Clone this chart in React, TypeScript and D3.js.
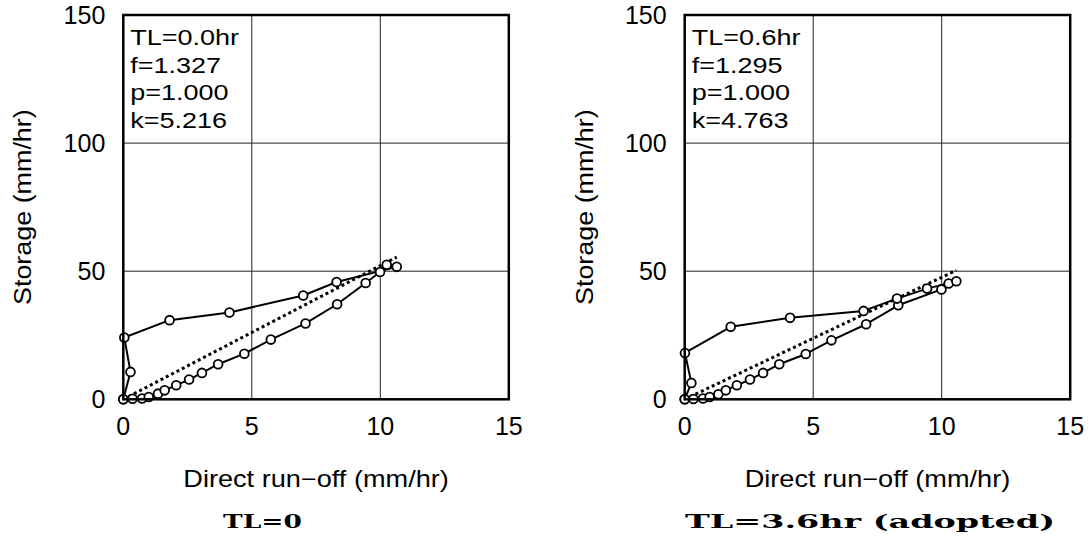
import React from "react";
import * as d3 from "d3";

const xTicks = [0, 5, 10, 15];
const yTicks = [0, 50, 100, 150];

const qTL0 = [0, 0.36, 0.73, 0.99, 1.35, 1.61, 2.06, 2.56, 3.06, 3.69, 4.71, 5.74, 7.09, 8.32, 9.43, 9.99, 10.25, 10.64, 8.3, 7.0, 4.13, 1.8, 0.04, 0.28, 0];
const sTL0 = [0, 0.2, 0.3, 0.9, 2.2, 3.5, 5.5, 7.7, 10.3, 13.7, 17.8, 23.3, 29.6, 37.1, 45.4, 49.7, 52.5, 51.7, 45.8, 40.5, 33.9, 30.9, 24.1, 10.7, 0];

const qTL36 = [0, 0.34, 0.71, 0.97, 1.31, 1.6, 2.03, 2.54, 3.05, 3.68, 4.71, 5.71, 7.06, 8.31, 9.99, 10.27, 10.57, 9.43, 8.26, 6.96, 4.1, 1.79, 0.01, 0.26, 0];
const sTL36 = [0, 0.1, 0.3, 0.9, 1.95, 3.5, 5.5, 7.7, 10.3, 13.7, 17.7, 23.0, 29.3, 36.7, 42.9, 45.2, 46.1, 43.2, 39.3, 34.5, 31.8, 28.3, 18.1, 6.4, 0];

const paramsTL0 = ["TL=0.0hr", "f=1.327", "p=1.000", "k=5.216"];
const paramsTL36 = ["TL=0.6hr", "f=1.295", "p=1.000", "k=4.763"];
const kTL0 = 5.216;
const kTL36 = 4.763;
const pTL0 = 1.0;
const pTL36 = 1.0;

const captions = ["TL=0", "TL=3.6hr (adopted)"];
const xTitle = "Direct run\u2212off (mm/hr)";
const yTitle = "Storage (mm/hr)";

const FONT = "'Liberation Sans', Arial, Helvetica, sans-serif";

type PanelProps = {
  left: number;
  q: number[];
  s: number[];
  params: string[];
  k: number;
  p: number;
  caption: string;
  captionX: number;
  captionLen: number;
};

function Panel({ left, q, s, params, k, p, caption, captionX, captionLen }: PanelProps) {
  const top = 15;
  const bottom = 399.3;
  const width = 385.5;
  const x = d3.scaleLinear().domain([0, 15]).range([left, left + width]);
  const y = d3.scaleLinear().domain([0, 150]).range([bottom, top]);
  const pts: [number, number][] = q.map((v, i) => [v, s[i]]);
  const line = d3
    .line<[number, number]>()
    .x((d) => x(d[0]))
    .y((d) => y(d[1]));
  const qMax = d3.max(q) as number;
  const fit: [number, number][] = [
    [0, 0],
    [qMax, k * Math.pow(qMax, p)],
  ];
  const cx = (left + left + width) / 2;
  return (
    <g>
      {xTicks.slice(1, -1).map((t) => (
        <line key={"gx" + t} x1={x(t)} x2={x(t)} y1={top} y2={bottom} stroke="#222" strokeWidth={1} />
      ))}
      {yTicks.slice(1, -1).map((t) => (
        <line key={"gy" + t} x1={left} x2={left + width} y1={y(t)} y2={y(t)} stroke="#222" strokeWidth={1} />
      ))}
      <path d={line(fit) as string} fill="none" stroke="#000" strokeWidth={3} strokeDasharray="3 3" />
      <path d={line(pts) as string} fill="none" stroke="#000" strokeWidth={2} strokeLinejoin="round" />
      {pts.map((d, i) => (
        <circle key={i} cx={x(d[0])} cy={y(d[1])} r={4.4} fill="#fff" stroke="#000" strokeWidth={1.8} />
      ))}
      <rect x={left} y={top} width={width} height={bottom - top} fill="none" stroke="#000" strokeWidth={2.5} />
      {xTicks.map((t) => (
        <text key={"tx" + t} x={x(t)} y={435} textAnchor="middle" fontFamily={FONT} fontSize={25}>
          {t}
        </text>
      ))}
      {yTicks.map((t) => (
        <text key={"ty" + t} x={left - 18} y={y(t) + 9} textAnchor="end" fontFamily={FONT} fontSize={25}>
          {t}
        </text>
      ))}
      {params.map((t, i) => (
        <text
          key={"p" + i}
          transform={`translate(${left + 7},${45 + i * 27.7}) scale(1.2,1)`}
          fontFamily={FONT}
          fontSize={22.5}
        >
          {t}
        </text>
      ))}
      <text
        transform={`translate(${cx},${487}) scale(1.18,1)`}
        textAnchor="middle"
        fontFamily={FONT}
        fontSize={23}
      >
        {xTitle}
      </text>
      <text
        transform={`translate(${left - 92},${(top + bottom) / 2}) rotate(-90) scale(1.17,1)`}
        textAnchor="middle"
        fontFamily={FONT}
        fontSize={23}
      >
        {yTitle}
      </text>
      <text
        x={captionX}
        y={528}
        textAnchor="middle"
        fontFamily="'DejaVu Serif', 'Liberation Serif', serif"
        fontWeight="bold"
        fontSize={19}
        textLength={captionLen}
        lengthAdjust="spacingAndGlyphs"
      >
        {caption}
      </text>
    </g>
  );
}

export default function App() {
  return (
    <svg
      width={1092}
      height={540}
      style={{ position: "absolute", left: 0, top: 0, background: "#fff" }}
    >
      <rect x={0} y={0} width={1092} height={540} fill="#fff" />
      <Panel left={123.3} q={qTL0} s={sTL0} params={paramsTL0} k={kTL0} p={pTL0} caption={captions[0]} captionX={262.5} captionLen={79} />
      <Panel left={684.7} q={qTL36} s={sTL36} params={paramsTL36} k={kTL36} p={pTL36} caption={captions[1]} captionX={870} captionLen={370} />
    </svg>
  );
}
